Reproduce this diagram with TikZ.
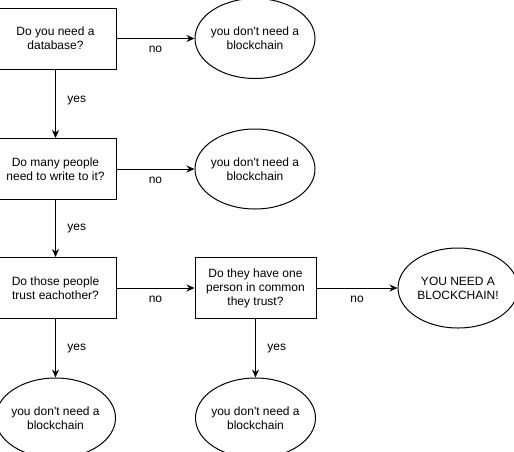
\documentclass[tikz,border=0pt]{standalone}
\usepackage{fontspec}
\setmainfont{Liberation Sans}
\usetikzlibrary{positioning}
\usetikzlibrary{arrows.meta}
\usetikzlibrary{shapes.geometric}

\tikzset{
  question/.style={draw, line width=1pt, minimum width=121pt, minimum height=61pt, inner sep=2pt, align=center, font=\fontsize{12}{14}\selectfont},
  answer/.style={draw, ellipse, line width=1pt, minimum width=120pt, minimum height=80pt, inner xsep=-10pt, inner ysep=0pt, align=center, font=\fontsize{12}{14}\selectfont},
  choice/.style={font=\fontsize{12}{14}\selectfont}
}

\begin{document}
\begin{tikzpicture}[x=1pt, y=-1pt, line width=1pt, >={Stealth[length=8pt,width=7pt]}]
  \useasboundingbox (0,0) rectangle (514,451);
  \clip (0,0) rectangle (514,451);

  \node[question] (database) at (55.5,38.5) {Do you need a\\database?};
  \node[answer] (nodb) at (255,38.5) {you don\textquotesingle t need a\\blockchain};

  \node[question] (writers) at (55.5,169) {Do many people\\need to write to it?};
  \node[answer] (nowriters) at (255,169) {you don\textquotesingle t need a\\blockchain};

  \node[question] (trust) at (55.5,288) {Do those people\\trust eachother?};
  \node[question] (common) at (255.5,288) {Do they have one\\person in common\\they trust?};
  \node[answer] (need) at (458,288) {YOU NEED A\\BLOCKCHAIN!};

  \node[answer] (trusted) at (55.5,418) {you don\textquotesingle t need a\\blockchain};
  \node[answer] (shared) at (255.5,418) {you don\textquotesingle t need a\\blockchain};

  \draw (database) edge[->] node[choice, below=4pt] {no} (nodb);
  \draw (database) edge[->] node[choice, right=8pt, pos=0.45] {yes} (writers);
  \draw (writers) edge[->] node[choice, below=4pt] {no} (nowriters);
  \draw (writers) edge[->] node[choice, right=8pt] {yes} (trust);
  \draw (trust) edge[->] node[choice, below=4pt] {no} (common);
  \draw (common) edge[->] node[choice, below=4pt] {no} (need);
  \draw (trust) edge[->] node[choice, right=8pt] {yes} (trusted);
  \draw (common) edge[->] node[choice, right=8pt] {yes} (shared);

\end{tikzpicture}
\end{document}
